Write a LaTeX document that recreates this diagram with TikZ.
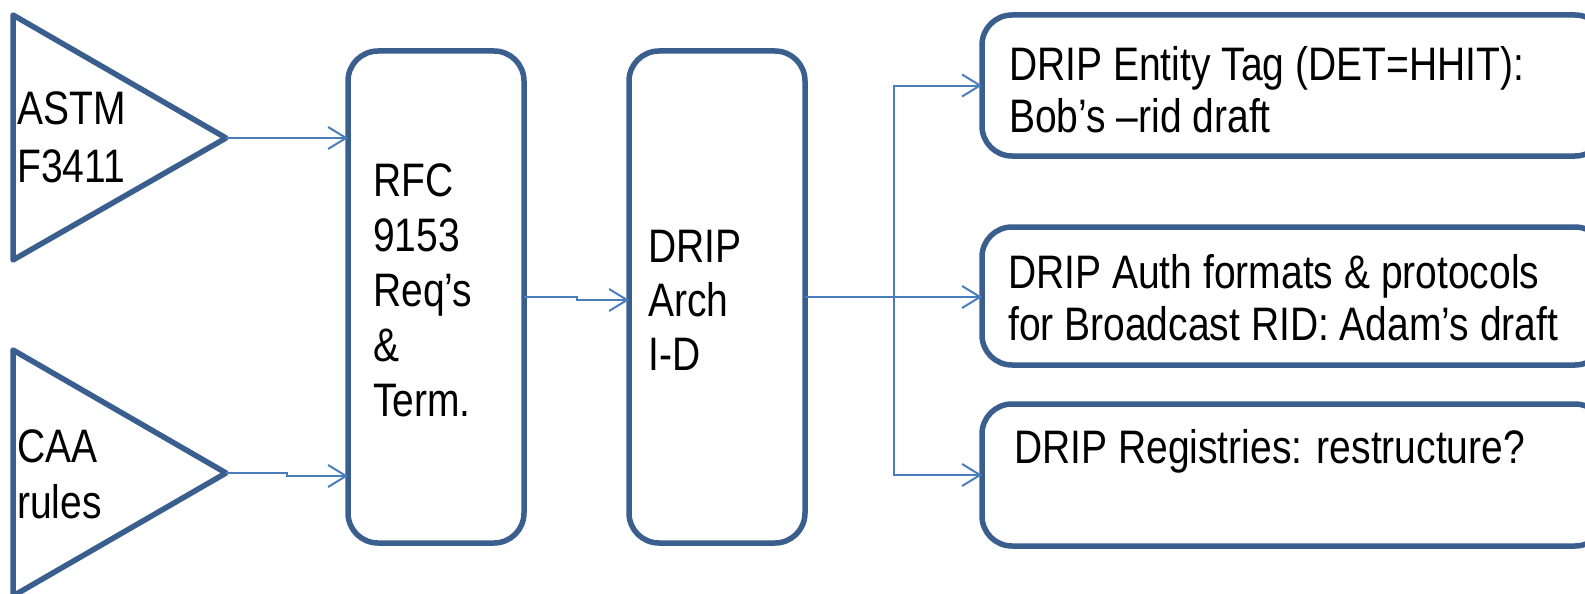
\documentclass[tikz,border=0pt]{standalone}
\usepackage{fontspec}
\newfontfamily\dfont[FakeStretch=0.83]{Liberation Sans}
\usetikzlibrary{arrows.meta}
\definecolor{boxblue}{HTML}{3A5F8F}
\definecolor{linkblue}{HTML}{4A7EBB}
\begin{document}
\begin{tikzpicture}[x=1pt,y=-1pt,
  shapeline/.style={draw=boxblue, line width=5.5pt, line join=round},
  rbox/.style={shapeline, rounded corners=30pt, inner sep=0pt, outer sep=0pt, fill=white},
  conn/.style={draw=linkblue, line width=2pt, -{Straight Barb[length=18pt,width=22pt]}},
  txt/.style={font={\dfont\fontsize{47}{#1}\selectfont}, align=left, anchor=base west, inner sep=0pt, text=black}]
\clip (0,0) rectangle (1585,594);
\useasboundingbox (0,0) rectangle (1585,594);
\fill[white] (0,0) rectangle (1585,594);
% input triangles
\draw[shapeline] (13,15) -- (13,260) -- (226,138) -- cycle;
\draw[shapeline] (13,350) -- (13,596) -- (226,473) -- cycle;
\coordinate (astmtip) at (226,138);
\coordinate (caatip) at (226,473);
% boxes
\node[rbox, minimum width=176pt, minimum height=492pt] (rfc) at (436,297) {};
\node[rbox, minimum width=176pt, minimum height=492pt] (arch) at (717,297) {};
\node[rbox, minimum width=623pt, minimum height=141pt] (top) at (1293.5,85.5) {};
\node[rbox, minimum width=623pt, minimum height=138pt] (mid) at (1293.5,296) {};
\node[rbox, minimum width=623pt, minimum height=142pt] (bot) at (1293.5,475) {};
% texts (anchor = baseline of the last line)
\node[txt=58] (astmtext) at (17,182) {ASTM\\F3411};
\node[txt=56] (caatext) at (17,518) {CAA\\rules};
\node[txt=55] (rfctext) at (373,416) {RFC\\9153\\Req’s\\\&\\Term.};
\node[txt=54] (archtext) at (648,370) {DRIP\\Arch\\I-D};
\node[txt=52] (toptext) at (1009,132) {DRIP Entity Tag (DET=HHIT):\\Bob’s –rid draft};
\node[txt=52] (midtext) at (1008,340) {DRIP Auth formats \& protocols\\for Broadcast RID: Adam’s draft};
\node[txt=52] (bottext) at (1014,463) {DRIP Registries: restructure?};
% connectors
\draw[conn] (astmtip) -- (astmtip -| rfc.west);
\draw[conn] (caatip) -- ++(61,0) -- ++(0,3) -- ([yshift=-3pt]caatip -| rfc.west);
\draw[conn] (rfc.east) -- ++(53,0) -- ++(0,3) -- ([yshift=-3pt]arch.west);
\coordinate (split) at ([xshift=89pt]arch.east);
\draw[conn] (arch.east) -- (arch.east -| mid.west);
\draw[conn] (split) |- (top.west);
\draw[conn] (split) |- (bot.west);
\end{tikzpicture}
\end{document}
